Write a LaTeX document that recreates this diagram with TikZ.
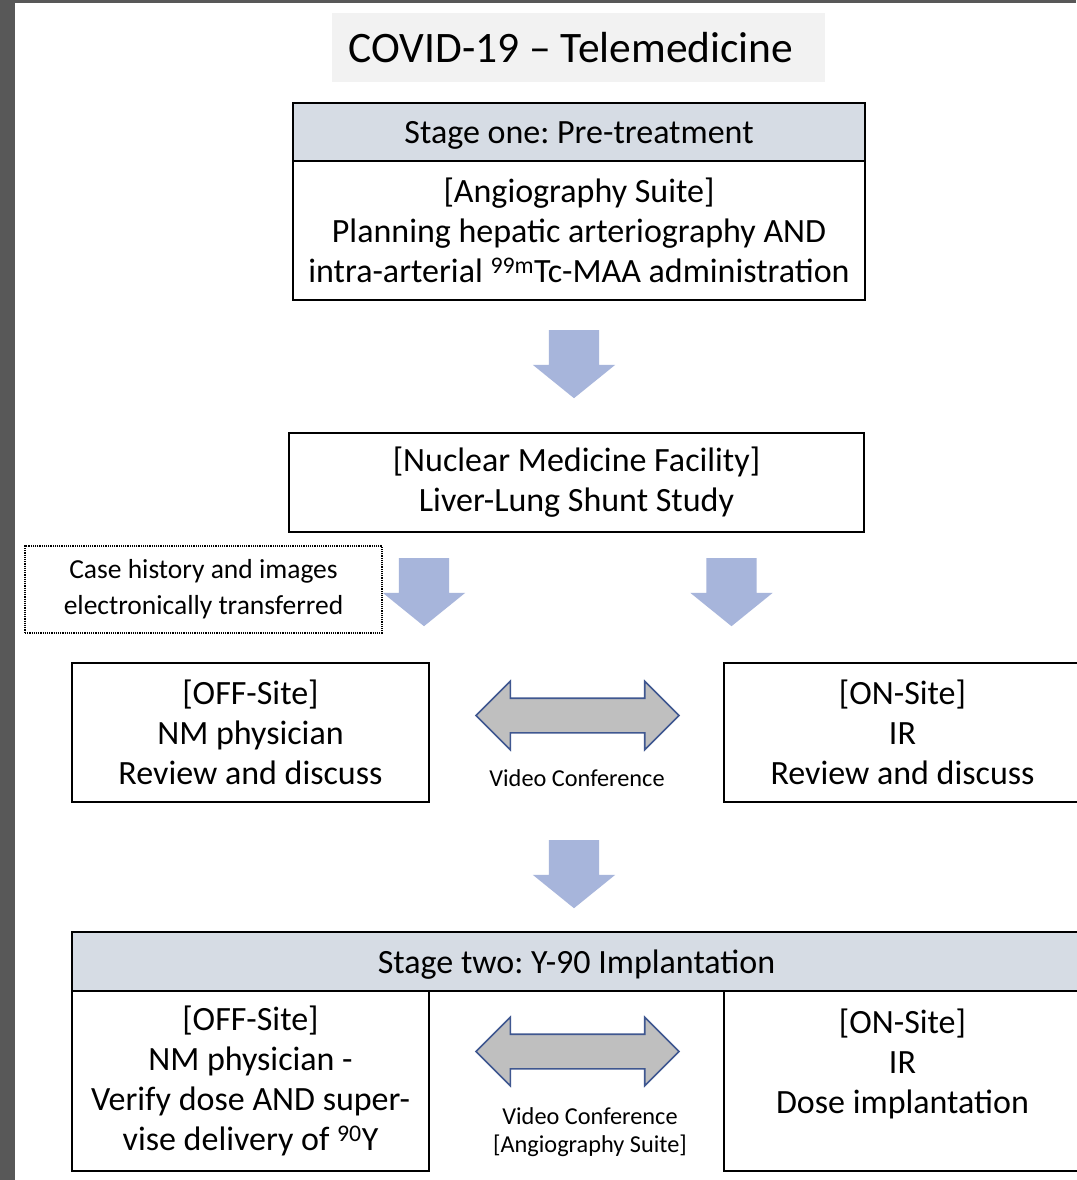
\documentclass[tikz,border=0pt]{standalone}
\usepackage{fontspec}
\setmainfont{Carlito}
\frenchspacing
\usetikzlibrary{shapes.arrows,positioning,calc}

\definecolor{headgray}{HTML}{D6DCE4}
\definecolor{titlegray}{HTML}{F2F2F2}
\definecolor{flowblue}{HTML}{A7B5DB}
\definecolor{linkgray}{HTML}{BFBFBF}
\definecolor{linkblue}{HTML}{3F5790}
\definecolor{framegray}{HTML}{585858}

\tikzset{
  box/.style={rectangle, draw=black, line width=1.6pt, outer sep=0pt, inner sep=0pt,
              align=center, font=\fontsize{34}{40}\selectfont},
  header/.style={box, fill=headgray, text depth=0pt},
  flow/.style={single arrow, fill=flowblue, rotate=-90, anchor=tail,
               inner xsep=0pt, inner ysep=25pt,
               minimum height=68pt, minimum width=82pt,
               single arrow head extend=16pt, single arrow tip angle=102},
  link/.style={double arrow, draw=linkblue, line width=1.6pt, fill=linkgray,
               inner xsep=0pt, inner ysep=16.5pt,
               minimum height=203pt, minimum width=67pt,
               double arrow head extend=17pt, double arrow tip angle=90},
  note/.style={align=center, font=\fontsize{24.3}{28}\selectfont}
}

\begin{document}
\begin{tikzpicture}[x=1pt, y=-1pt]
  % frame
  \useasboundingbox (0,0) rectangle (1076,1180);
  \fill[framegray] (0,0) rectangle (1076,1180);
  \fill[white] (15,3) rectangle (1076,1180);

  \node[fill=titlegray, minimum width=493pt, minimum height=69pt, inner sep=0pt,
        font=\fontsize{43.5}{48}\selectfont] (title) at (578.5,47.5)
  {COVID-19 -- Telemedicine\hspace*{15pt}};

  % stage one
  \node[header, minimum width=572pt, minimum height=58pt] (head1) at (579,132) {Stage one: Pre-treatment};
  \node[box, minimum width=572pt, minimum height=139pt, below=0pt of head1] (angio)
  {[Angiography Suite]\\ Planning hepatic arteriography AND\\
   intra-arterial \textsuperscript{99m}Tc-MAA administration};

  \node[flow] (flow1) at (574,330) {};

  \node[box, minimum width=575pt, minimum height=99pt] (nmf) at (576.5,482.5)
  {[Nuclear Medicine Facility]\\ Liver-Lung Shunt Study};

  \node[box, line width=1.2pt, densely dotted, minimum width=357pt, minimum height=87pt,
        font=\fontsize{27.5}{36}\selectfont] (transfer) at (203.5,589.5)
  {Case history and images\\ electronically transferred};

  \node[flow] (flow2) at (424,558) {};
  \node[flow] (flow3) at (731.5,558) {};

  \node[box, minimum width=357pt, minimum height=139pt] (off1) at (250.5,732.5)
  {[OFF-Site]\\ NM physician\\ Review and discuss};
  \node[box, minimum width=357pt, minimum height=139pt] (on1) at (902.5,732.5)
  {[ON-Site]\\ IR\\ Review and discuss};

  \node[link] (video1) at (577.5,715.5) {};
  \node[note] (vlabel1) at (577,778) {Video Conference};

  \node[flow] (flow4) at (574,840) {};

  % stage two
  \node[header, minimum width=1009pt, minimum height=59pt] (head2) at (576.5,961.5) {Stage two: Y-90 Implantation};
  \node[box, minimum width=357pt, minimum height=180pt] (off2) at (250.5,1081)
  {[OFF-Site]\\ NM physician -\\ Verify dose AND super-\\ vise delivery of \textsuperscript{90}Y};
  \node[box, minimum width=357pt, minimum height=180pt] (on2) at (902.5,1081)
  {[ON-Site]\\ IR\\ Dose implantation\\ \mbox{}};

  \node[link] (video2) at (577.5,1051.5) {};
  \node[note] (vlabel2) at (590,1132) {Video Conference\\{}[Angiography Suite]};
\end{tikzpicture}
\end{document}
